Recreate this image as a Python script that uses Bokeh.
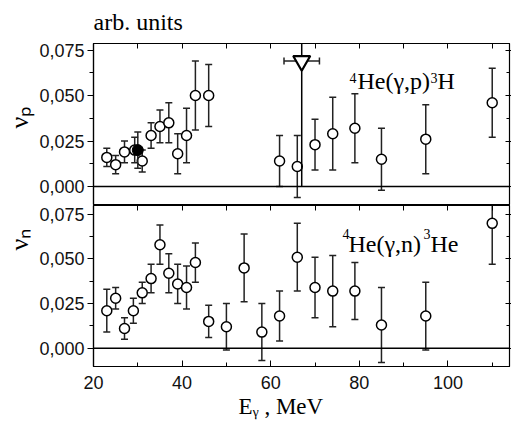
import math
from bokeh.plotting import figure
from bokeh.layouts import column
from bokeh.models import (Range1d, FixedTicker, LinearAxis, Label, Span, Title,
                          CustomJSTickFormatter)
from bokeh.embed import file_html
from bokeh.resources import INLINE

# ---------------- data ----------------
# 4He(g,p)3H : nu_p
p_E = [23, 25, 27, 29.3, 31, 33, 35, 37, 39, 41, 43, 46, 62, 66, 70, 74, 79, 85, 95, 110]
p_v = [0.016, 0.012, 0.019, 0.020, 0.014, 0.028, 0.033, 0.035, 0.018, 0.028, 0.050, 0.050,
       0.014, 0.011, 0.023, 0.029, 0.032, 0.015, 0.026, 0.046]
p_err = [0.005, 0.005, 0.006, 0.007, 0.006, 0.007, 0.009, 0.011, 0.011, 0.015, 0.019, 0.017,
         0.014, 0.017, 0.014, 0.020, 0.019, 0.017, 0.019, 0.019]
# filled point
pf_E = [30]
pf_v = [0.020]
pf_err = [0.010]
# upper limit (triangle)
lim_E = [67]
lim_v = [0.069]
lim_xerr = [4]

# 4He(g,n)3He : nu_n
n_E = [23, 25, 27, 29, 31, 33, 35, 37, 39, 41, 43, 46, 50, 54, 58, 62, 66, 70, 74, 79, 85, 95, 110]
n_v = [0.021, 0.028, 0.011, 0.021, 0.031, 0.039, 0.058, 0.042, 0.036, 0.034, 0.048, 0.015,
       0.012, 0.045, 0.009, 0.018, 0.051, 0.034, 0.032, 0.032, 0.013, 0.018, 0.070]
n_err = [0.012, 0.006, 0.006, 0.007, 0.006, 0.008, 0.011, 0.011, 0.011, 0.012, 0.011, 0.009,
         0.013, 0.019, 0.016, 0.014, 0.019, 0.017, 0.020, 0.016, 0.021, 0.019, 0.023]

x_ticks = [20, 40, 60, 80, 100]
x_minor = [30, 50, 70, 90, 110]
y_ticks = [0.0, 0.025, 0.05, 0.075]
y_tick_labels = ["0,000", "0,025", "0,050", "0,075"]
y_minor = [0.0125, 0.0375, 0.0625]

SANS = "Liberation Sans"
SERIF = "Liberation Serif"
BLACK = "#000000"

x_range = Range1d(20, 113.9)
FL = 92  # frame left (canvas px)


def blank_formatter():
    return CustomJSTickFormatter(code="return ''")


def style(p, show_x_labels, top_pad):
    p.outline_line_color = BLACK
    p.outline_line_width = 1.2
    p.grid.visible = False
    p.background_fill_color = "white"
    p.border_fill_color = "white"
    # left axis
    ya = p.yaxis[0]
    ya.ticker = FixedTicker(ticks=y_ticks, minor_ticks=y_minor)
    ya.major_label_overrides = {t: l for t, l in zip(y_ticks, y_tick_labels)}
    ya.major_label_text_font = SANS
    ya.major_label_text_font_size = "18px"
    ya.major_label_text_color = "#111111"
    ya.major_tick_out = 6
    ya.major_tick_in = 0
    ya.minor_tick_out = 4
    ya.minor_tick_in = 0
    ya.major_label_standoff = 3
    ya.axis_line_color = BLACK
    ya.major_tick_line_color = BLACK
    ya.minor_tick_line_color = BLACK
    ya.axis_line_width = 1.2
    # bottom axis
    xa = p.xaxis[0]
    xa.ticker = FixedTicker(ticks=x_ticks, minor_ticks=x_minor)
    xa.major_tick_in = 6
    xa.major_tick_out = 0
    xa.minor_tick_in = 4
    xa.minor_tick_out = 0
    xa.axis_line_color = BLACK
    xa.major_tick_line_color = BLACK
    xa.minor_tick_line_color = BLACK
    if show_x_labels:
        xa.major_label_text_font = SANS
        xa.major_label_text_font_size = "18px"
        xa.major_label_text_color = "#111111"
        xa.major_label_standoff = 9
    else:
        xa.formatter = blank_formatter()
        xa.major_label_text_font_size = "1px"
        xa.major_label_standoff = 0
        xa.major_tick_in = 0
        xa.minor_tick_in = 0
    # top axis: all ticks drawn as inward minor ticks; invisible outward major
    # ticks only reserve room above the frame
    ta = LinearAxis(ticker=FixedTicker(ticks=x_ticks, minor_ticks=x_ticks + x_minor),
                    formatter=blank_formatter(),
                    major_tick_in=0, major_tick_out=top_pad, major_tick_line_color=None,
                    minor_tick_in=5, minor_tick_out=0, minor_tick_line_color=BLACK,
                    major_label_text_font_size="1px", major_label_standoff=0,
                    axis_line_color=BLACK)
    p.add_layout(ta, "above")
    # right axis
    ra = LinearAxis(ticker=FixedTicker(ticks=y_ticks, minor_ticks=y_minor),
                    formatter=blank_formatter(),
                    major_tick_in=4, major_tick_out=2, minor_tick_in=3, minor_tick_out=0,
                    major_label_text_font_size="1px", major_label_standoff=0,
                    axis_line_color=BLACK, major_tick_line_color=BLACK,
                    minor_tick_line_color=BLACK)
    p.add_layout(ra, "right")
    p.add_layout(Span(location=0, dimension="width", line_color=BLACK, line_width=1.5))


def errorbars(p, xs, ys, errs, color="#222222"):
    lo = [y - e for y, e in zip(ys, errs)]
    hi = [y + e for y, e in zip(ys, errs)]
    p.segment(x0=xs, y0=lo, x1=xs, y1=hi, line_color=color, line_width=1.5)
    p.scatter(x=xs, y=lo, marker="dash", size=7, line_color=color, line_width=1.5)
    p.scatter(x=xs, y=hi, marker="dash", size=7, line_color=color, line_width=1.5)


def lbl(p, fb, x, y, text, size, font=SERIF):
    # x, y: canvas pixel position of text start / baseline; fb = frame bottom (canvas px)
    p.add_layout(Label(x=x - FL, y=fb - y, x_units="screen", y_units="screen", text=text,
                       text_font=font, text_font_size=f"{size}px", text_color=BLACK,
                       text_align="left", text_baseline="alphabetic"))


def ylabel(p, text, offset):
    p.add_layout(Title(text=text, align="left", offset=offset, standoff=5,
                       text_font=SERIF, text_font_size="26px", text_font_style="normal",
                       text_color=BLACK), "left")


# ---------------- top panel ----------------
p1 = figure(width=511, height=205, x_range=x_range, y_range=Range1d(-0.0099, 0.0786),
            output_backend="svg", toolbar_location=None,
            min_border_left=FL, min_border_right=2, min_border_top=43, min_border_bottom=1)
style(p1, False, 7)
p1.title.text = "arb. units"
p1.title.align = "left"
p1.title.offset = 0
p1.title.standoff = 4
p1.title.text_font = SERIF
p1.title.text_font_size = "24px"
p1.title.text_font_style = "normal"
p1.title.text_color = BLACK

errorbars(p1, p_E, p_v, p_err)
p1.scatter(x=p_E, y=p_v, marker="circle", size=10, fill_color="white",
           line_color=BLACK, line_width=1.5)
errorbars(p1, pf_E, pf_v, pf_err)
p1.scatter(x=pf_E, y=pf_v, marker="circle", size=11, fill_color=BLACK, line_color=BLACK)

# upper limit: vertical line, horizontal bar, triangle
p1.segment(x0=lim_E, y0=[0.0], x1=lim_E, y1=[0.1], line_color=BLACK, line_width=1.5)
lx0 = [e - d for e, d in zip(lim_E, lim_xerr)]
lx1 = [e + d for e, d in zip(lim_E, lim_xerr)]
p1.segment(x0=lx0, y0=lim_v, x1=lx1, y1=lim_v, line_color="#222222", line_width=1.5)
p1.scatter(x=lx0, y=lim_v, marker="dash", size=7, angle=math.pi / 2, line_color="#222222", line_width=1.5)
p1.scatter(x=lx1, y=lim_v, marker="dash", size=7, angle=math.pi / 2, line_color="#222222", line_width=1.5)
p1.scatter(x=lim_E, y=lim_v, marker="inverted_triangle", size=17, fill_color="white",
           line_color=BLACK, line_width=2.2)

FB1 = 204
ylabel(p1, "νₚ", 76)
lbl(p1, FB1, 348, 77, "4", 14)
lbl(p1, FB1, 356, 80, "He(γ,p)", 24)
lbl(p1, FB1, 429, 77, "3", 14)
lbl(p1, FB1, 436, 80, "H", 24)

# ---------------- bottom panel ----------------
p2 = figure(width=511, height=216, x_range=x_range, y_range=Range1d(-0.0103, 0.080),
            output_backend="svg", toolbar_location=None,
            min_border_left=FL, min_border_right=2, min_border_top=0, min_border_bottom=55)
style(p2, True, 0)
p2.add_layout(Title(text="Eᵧ , MeV", align="left", offset=145, standoff=0,
                    text_font=SERIF, text_font_size="23px", text_font_style="normal",
                    text_color=BLACK), "below")

errorbars(p2, n_E, n_v, n_err)
p2.scatter(x=n_E, y=n_v, marker="circle", size=10, fill_color="white",
           line_color=BLACK, line_width=1.5)

FB2 = 366
ylabel(p2, "νₙ", 116)
lbl(p2, FB2, 341, 233, "4", 14)
lbl(p2, FB2, 347, 243, "He(γ,n)", 24)
lbl(p2, FB2, 422, 233, "3", 14)
lbl(p2, FB2, 429, 243, "He", 24)

layout = column(p1, p2, spacing=0)
open("out.html", "w").write(file_html(layout, INLINE))
